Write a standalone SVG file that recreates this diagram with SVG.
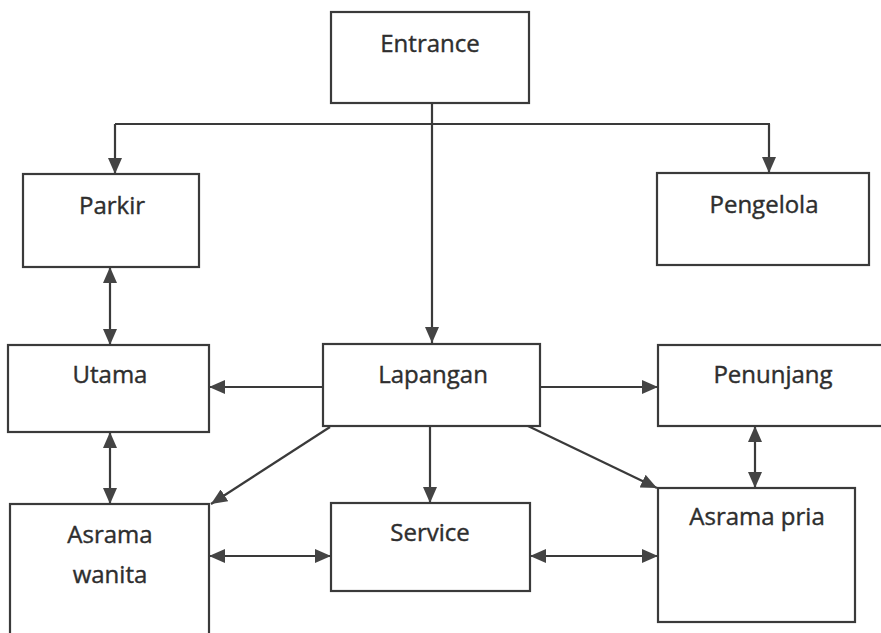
<svg xmlns="http://www.w3.org/2000/svg" width="881" height="633" viewBox="0 0 881 633">
  <style>
    .box { fill: #ffffff; stroke: #3a3a3a; stroke-width: 2.2; }
    .lbl { font-family: "Open Sans", "Noto Sans", sans-serif; font-size: 24px; fill: #2e2e2e; stroke: #2e2e2e; stroke-width: 0.4; text-anchor: middle; }
    .link { fill: none; stroke: #3a3a3a; stroke-width: 2.2; }
    .one { marker-end: url(#head); }
    .two { marker-start: url(#tail); marker-end: url(#head); }
  </style>
  <defs>
    <marker id="head" viewBox="0 0 16 14" refX="16" refY="7" markerWidth="16" markerHeight="14" markerUnits="userSpaceOnUse" orient="auto">
      <path d="M0,0 L16,7 L0,14 Z" fill="#444444"/>
    </marker>
    <marker id="tail" viewBox="0 0 16 14" refX="0" refY="7" markerWidth="16" markerHeight="14" markerUnits="userSpaceOnUse" orient="auto">
      <path d="M16,0 L0,7 L16,14 Z" fill="#444444"/>
    </marker>
  </defs>
  <rect width="881" height="633" fill="#ffffff"/>

  <g id="connectors">
    <!-- entrance trunk and branch bar -->
    <path class="link one" d="M432,103 L432,343"/>
    <path class="link" d="M115,124 L770,124"/>
    <path class="link one" d="M115,124 L115,174"/>
    <path class="link one" d="M769,124 L769,173"/>
    <!-- vertical pairs -->
    <path class="link two" d="M110,267 L110,345"/>
    <path class="link two" d="M110,432 L110,504"/>
    <path class="link two" d="M755,426 L755,488"/>
    <!-- from Lapangan -->
    <path class="link one" d="M323,387 L209,387"/>
    <path class="link one" d="M540,387 L658,387"/>
    <path class="link one" d="M430,426 L430,503"/>
    <path class="link one" d="M330,427 L211,504"/>
    <path class="link one" d="M528,426 L657,488"/>
    <!-- bottom row -->
    <path class="link two" d="M209,556 L331,556"/>
    <path class="link two" d="M530,556 L658,556"/>
  </g>

  <g id="entrance">
    <rect class="box" x="331" y="12" width="198" height="91"/>
    <text class="lbl" x="430" y="52">Entrance</text>
  </g>
  <g id="parkir">
    <rect class="box" x="23" y="174" width="176" height="93"/>
    <text class="lbl" x="112" y="214">Parkir</text>
  </g>
  <g id="pengelola">
    <rect class="box" x="657" y="173" width="212" height="92"/>
    <text class="lbl" x="764" y="213">Pengelola</text>
  </g>
  <g id="utama">
    <rect class="box" x="8" y="345" width="201" height="87"/>
    <text class="lbl" x="110" y="383">Utama</text>
  </g>
  <g id="lapangan">
    <rect class="box" x="323" y="344" width="217" height="82"/>
    <text class="lbl" x="433" y="383">Lapangan</text>
  </g>
  <g id="penunjang">
    <rect class="box" x="658" y="345" width="230" height="81"/>
    <text class="lbl" x="773" y="383">Penunjang</text>
  </g>
  <g id="asrama-wanita">
    <rect class="box" x="10" y="504" width="199" height="140"/>
    <text class="lbl" x="110" y="543">Asrama</text>
    <text class="lbl" x="110" y="583">wanita</text>
  </g>
  <g id="service">
    <rect class="box" x="331" y="503" width="199" height="88"/>
    <text class="lbl" x="430" y="541">Service</text>
  </g>
  <g id="asrama-pria">
    <rect class="box" x="658" y="488" width="197" height="134"/>
    <text class="lbl" x="757" y="525">Asrama pria</text>
  </g>
</svg>
